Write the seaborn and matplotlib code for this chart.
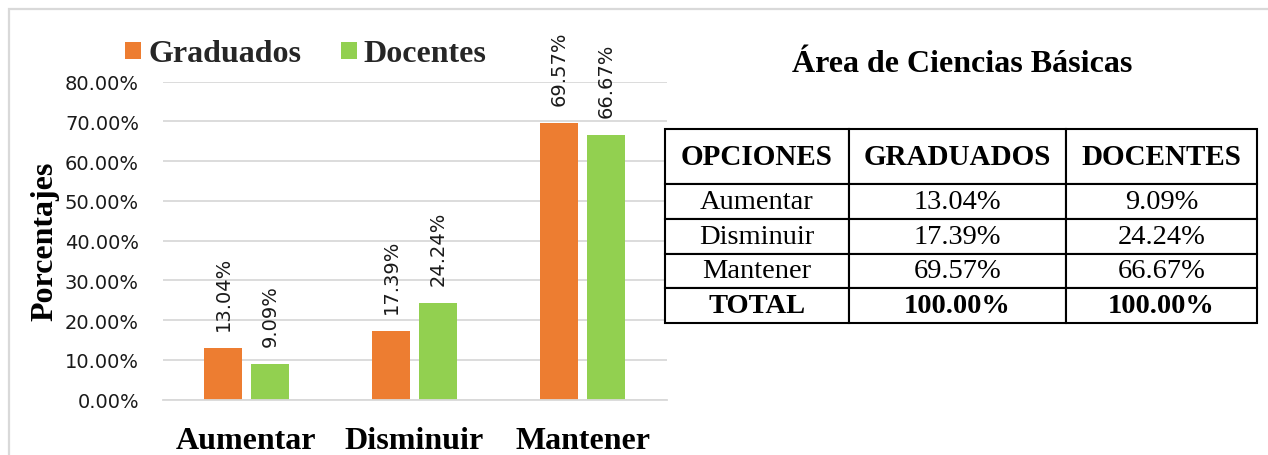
import matplotlib
matplotlib.use("Agg")
import matplotlib.pyplot as plt
from matplotlib.patches import Patch, Rectangle
from matplotlib.ticker import FuncFormatter
import pandas as pd
import seaborn as sns

# Datos
categorias = ["Aumentar", "Disminuir", "Mantener"]
grupos = ["Graduados", "Docentes"]
graduados = [13.04, 17.39, 69.57]
docentes = [9.09, 24.24, 66.67]
encabezados = ["OPCIONES", "GRADUADOS", "DOCENTES"]
titulo = "Área de Ciencias Básicas"
eje_y = "Porcentajes"
y_ticks = [0, 10, 20, 30, 40, 50, 60, 70, 80]

NARANJA = "#ED7D31"
VERDE = "#92D050"
GRIS = "#d9d9d9"
SERIF = "Liberation Serif"
SANS = "DejaVu Sans"

sns.set_theme(style="white")
plt.rcParams["font.family"] = [SANS]

W, H = 1268, 456
fig = plt.figure(figsize=(W / 100, H / 100), dpi=100)

# Marco exterior del gráfico
fig.add_artist(Rectangle((8.5 / W, -0.05), 1.1, 1 - 10 / H + 0.05,
                         transform=fig.transFigure, fill=False,
                         ec=GRIS, lw=1.6))

# Gráfico de barras
ax = fig.add_axes([162.5 / W, 1 - 400.7 / H, 504 / W, 318 / H])
df = pd.DataFrame({
    "Opción": categorias * 2,
    "Porcentaje": graduados + docentes,
    "Grupo": [grupos[0]] * 3 + [grupos[1]] * 3,
})
sns.barplot(data=df, x="Opción", y="Porcentaje", hue="Grupo",
            palette=[NARANJA, VERDE], saturation=1, width=0.56, gap=0.19,
            linewidth=0, legend=False, ax=ax)

ax.set_ylim(0, 80)
ax.set_xlim(-0.5, 2.5)
ax.set_yticks(y_ticks)
ax.yaxis.set_major_formatter(FuncFormatter(lambda v, _: f"{v:.2f}%"))
ax.yaxis.grid(True, color=GRIS, lw=1.3)
ax.set_axisbelow(True)
for s in ["top", "right", "left"]:
    ax.spines[s].set_visible(False)
ax.spines["bottom"].set_color(GRIS)
ax.spines["bottom"].set_linewidth(1.3)
ax.tick_params(axis="y", length=0, pad=17, labelsize=14, labelcolor="#1a1a1a")
ax.tick_params(axis="x", length=0, pad=19)
for lbl in ax.get_xticklabels():
    lbl.set_fontfamily(SERIF)
    lbl.set_fontweight("bold")
    lbl.set_fontsize(23)
    lbl.set_color("black")
ax.set_xlabel("")
ax.set_ylabel(eje_y, fontfamily=SERIF, fontweight="bold", fontsize=23,
              color="black")
ax.yaxis.set_label_coords(-0.205, 0.5)

for cont in ax.containers:
    vals = [b.get_height() for b in cont]
    ax.bar_label(cont, labels=[f"{v:.2f}%" for v in vals], rotation=90,
                 padding=13, fontsize=14, color="#1a1a1a", clip_on=False)

# Leyenda
handles = [Patch(facecolor=NARANJA, edgecolor="none"),
           Patch(facecolor=VERDE, edgecolor="none")]
fig.legend(handles, grupos, loc="center left",
           bbox_to_anchor=(125 / W, 1 - 55 / H), ncol=2, frameon=False,
           borderpad=0, borderaxespad=0, handlelength=0.5,
           handleheight=0.45, handletextpad=0.22, columnspacing=1.25,
           prop={"family": SERIF, "weight": "bold", "size": 23})

# Título
fig.text(962 / W, 1 - 65 / H, titulo, ha="center", va="center",
         fontfamily=SERIF, fontweight="bold", fontsize=23, color="black")

# Tabla de resumen
tx = fig.add_axes([665 / W, 1 - 324 / H, 592 / W, 194 / H])
tx.axis("off")
filas = [[c, f"{g:.2f}%", f"{d:.2f}%"]
         for c, g, d in zip(categorias, graduados, docentes)]
filas.append(["TOTAL", f"{sum(graduados):.2f}%", f"{sum(docentes):.2f}%"])
anchos = [184, 217, 191]
tabla = tx.table(cellText=filas, colLabels=encabezados, cellLoc="center",
                 colWidths=[a / sum(anchos) for a in anchos],
                 bbox=[0, 0, 1, 1])
tabla.auto_set_font_size(False)
n_filas = len(filas) + 1
for (r, c), cell in tabla.get_celld().items():
    cell.set_edgecolor("black")
    cell.set_linewidth(1.5)
    cell.set_height(55 if r == 0 else 34.75)
    negrita = (r == 0) or (r == n_filas - 1)
    cell.get_text().set_fontfamily(SERIF)
    cell.get_text().set_fontsize(21 if r == 0 else 20.5)
    cell.get_text().set_fontweight("bold" if negrita else "normal")
    cell.get_text().set_color("black")

fig.savefig("out.png", dpi=100)
